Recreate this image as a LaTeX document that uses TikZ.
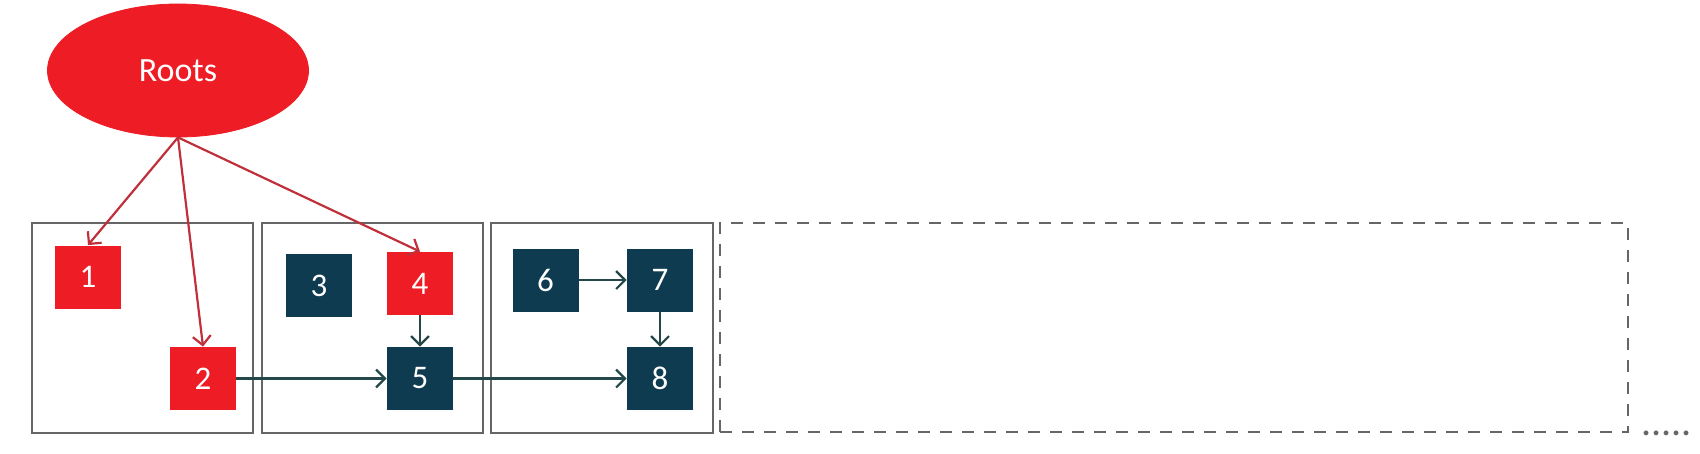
\documentclass[tikz,border=0pt]{standalone}
\usepackage{fontspec}
\setmainfont{Carlito}
\usetikzlibrary{shapes.geometric,arrows.meta}
\definecolor{rootred}{HTML}{EE1C25}
\definecolor{navy}{HTML}{0E3B4F}
\definecolor{redline}{HTML}{C0303A}
\definecolor{darkline}{HTML}{24484A}
\definecolor{boxgray}{HTML}{666666}
\tikzset{
  obj/.style={rectangle, minimum width=33pt, minimum height=31.5pt, inner sep=0pt, text=white, font=\fontsize{16.5}{18}\selectfont},
  live/.style={obj, fill=rootred},
  dead/.style={obj, fill=navy},
  region/.style={rectangle, draw=boxgray, line width=1.3pt, minimum height=105pt, inner sep=0pt},
  rootarrow/.style={draw=redline, line width=1.1pt, -{Straight Barb[length=4.5pt,width=9pt,line width=1.1pt]}},
  refarrow/.style={draw=darkline, line width=1.1pt, -{Straight Barb[length=4.5pt,width=9pt,line width=1.1pt]}}
}
\begin{document}
\begin{tikzpicture}[x=0.5pt,y=-0.5pt]
\useasboundingbox (0,0) rectangle (1700,454);
% regions
\node[region, minimum width=110.5pt] (ra) at (142.5,328) {};
\node[region, minimum width=110.5pt] (rb) at (372.5,328) {};
\node[region, minimum width=111pt] (rc) at (602,328) {};
\node[region, dashed, dash pattern=on 6pt off 5pt, minimum width=454pt, minimum height=104.5pt] (rd) at (1174,327.5) {};
\node[text=boxgray, font=\fontsize{20}{22}\selectfont, anchor=base west, inner sep=0pt] (dots) at (1641,435) {.....};
% roots
\node[ellipse, fill=rootred, draw=rootred, minimum width=130.5pt, minimum height=66.5pt, inner sep=0pt, text=white, font=\fontsize{17}{20}\selectfont] (roots) at (178,70.5) {Roots};
% objects
\node[live] (n1) at (88,277) {1};
\node[live] (n2) at (203,378.5) {2};
\node[dead] (n3) at (319,285.5) {3};
\node[live] (n4) at (420,283.5) {4};
\node[dead] (n5) at (420,378.5) {5};
\node[dead] (n6) at (545.5,280) {6};
\node[dead] (n7) at (660,280) {7};
\node[dead] (n8) at (660,378.5) {8};
% root references
\draw[rootarrow] (roots.south) -- (n1.north);
\draw[rootarrow] (roots.south) -- (n2.north);
\draw[rootarrow] (roots.south) -- (n4.north);
% object references
\draw[refarrow] (n2.east) -- (n5.west);
\draw[refarrow] (n4.south) -- (n5.north);
\draw[refarrow] (n5.east) -- (n8.west);
\draw[refarrow] (n6.east) -- (n7.west);
\draw[refarrow] (n7.south) -- (n8.north);
\end{tikzpicture}
\end{document}
